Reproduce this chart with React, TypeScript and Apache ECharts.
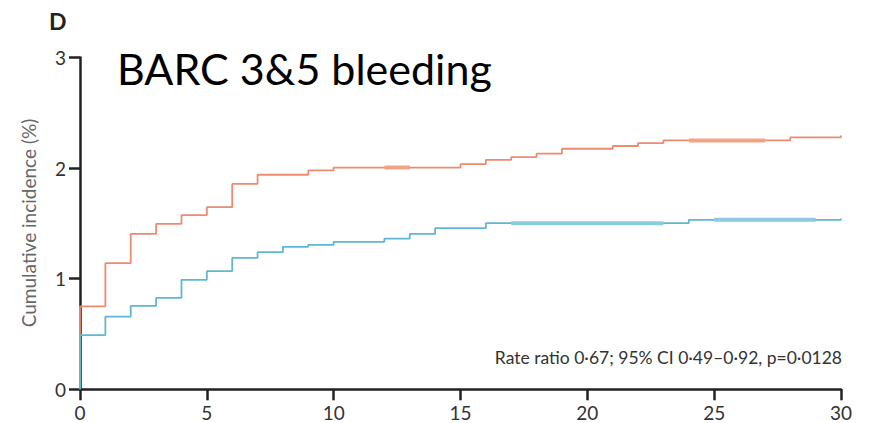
import React, { useEffect, useRef } from "react";
import * as echarts from "echarts";

// Kaplan–Meier style cumulative incidence, [day, %] pairs (value holds from day onward)
const orangeCurve: [number, number][] = [
  [0, 0], [0, 0.75], [1, 1.14], [2, 1.405], [3, 1.496], [4, 1.575], [5, 1.647],
  [6, 1.857], [7, 1.94], [9, 1.98], [10, 2.005], [15, 2.036], [16, 2.075],
  [17, 2.1], [18, 2.13], [19, 2.175], [21, 2.2], [22, 2.226], [23, 2.25],
  [28, 2.277], [30, 2.295],
];
const blueCurve: [number, number][] = [
  [0, 0], [0, 0.49], [1, 0.657], [2, 0.754], [3, 0.826], [4, 0.99], [5, 1.068],
  [6, 1.188], [7, 1.24], [8, 1.288], [9, 1.306], [10, 1.333], [12, 1.363],
  [13, 1.405], [14, 1.457], [16, 1.502], [24, 1.532], [30, 1.544],
];
// dense censoring stretches (drawn thicker)
const orangeDense: [number, number][][] = [
  [[12, 2.005], [13, 2.005]],
  [[24, 2.25], [27, 2.25]],
];
const blueDense: [number, number][][] = [
  [[17, 1.502], [23, 1.502]],
  [[25, 1.532], [29, 1.532]],
];
const xTicks = [0, 5, 10, 15, 20, 25, 30];
const yTicks = [0, 1, 2, 3];
const titleText = "BARC 3&5 bleeding";
const panelLetter = "D";
const yAxisTitle = "Cumulative incidence (%)";
const statText = "Rate ratio 0·67; 95% CI 0·49–0·92, p=0·0128";

const ORANGE = "#ec8b70";
const BLUE = "#5fb7d2";

export default function App() {
  const ref = useRef<HTMLDivElement>(null);
  useEffect(() => {
    if (!ref.current) return;
    const chart = echarts.init(ref.current, null, { renderer: "svg" });
    const denseSeries = (segs: [number, number][][], color: string) =>
      segs.map((d) => ({
        type: "line",
        data: d,
        symbol: "none",
        lineStyle: { color, width: 4 },
        silent: true,
        z: 3,
      }));
    chart.setOption({
      animation: false,
      backgroundColor: "#ffffff",
      grid: { left: 80, right: 36, top: 57.5, bottom: 33.7 },
      xAxis: {
        type: "value",
        min: xTicks[0],
        max: xTicks[xTicks.length - 1],
        interval: 5,
        axisLine: { show: true, lineStyle: { color: "#222", width: 2.5 } },
        axisTick: { show: true, length: 11, lineStyle: { color: "#222", width: 2.5 } },
        axisLabel: { color: "#333", fontSize: 19, fontFamily: "Lato", margin: 14 },
        splitLine: { show: false },
      },
      yAxis: {
        type: "value",
        min: yTicks[0],
        max: yTicks[yTicks.length - 1],
        interval: 1,
        axisLine: { show: true, lineStyle: { color: "#222", width: 2.5 } },
        axisTick: { show: true, length: 11, lineStyle: { color: "#222", width: 2.5 } },
        axisLabel: { color: "#333", fontSize: 19, fontFamily: "Lato", margin: 14 },
        splitLine: { show: false },
      },
      series: [
        {
          type: "line",
          step: "end",
          data: orangeCurve,
          symbol: "none",
          lineStyle: { color: ORANGE, width: 1.8 },
          z: 2,
        },
        {
          type: "line",
          step: "end",
          data: blueCurve,
          symbol: "none",
          lineStyle: { color: BLUE, width: 1.8 },
          z: 2,
        },
        ...denseSeries(orangeDense, "#f0a385"),
        ...denseSeries(blueDense, "#8ccbdf"),
      ],
      graphic: [
        {
          type: "text",
          left: 49,
          top: 9,
          style: { text: panelLetter, fontSize: 23, fontWeight: "bold", fill: "#222", fontFamily: "Lato" },
        },
        {
          type: "text",
          x: 117,
          y: 68,
          style: {
            text: titleText,
            fontSize: 43,
            fill: "#000",
            fontFamily: "Lato",
            textVerticalAlign: "middle",
          },
        },
        {
          type: "text",
          x: 28,
          y: 223,
          rotation: Math.PI / 2,
          style: {
            text: yAxisTitle,
            fontSize: 19,
            fill: "#666",
            fontFamily: "Lato",
            textAlign: "center",
            textVerticalAlign: "middle",
          },
        },
        {
          type: "text",
          x: 842,
          y: 357,
          style: {
            text: statText,
            fontSize: 17.5,
            fill: "#333",
            fontFamily: "Lato",
            textAlign: "right",
            textVerticalAlign: "middle",
          },
        },
      ],
    });
    return () => chart.dispose();
  }, []);
  return (
    <div
      ref={ref}
      style={{ position: "fixed", left: 0, top: 0, width: 877, height: 423 }}
    />
  );
}
